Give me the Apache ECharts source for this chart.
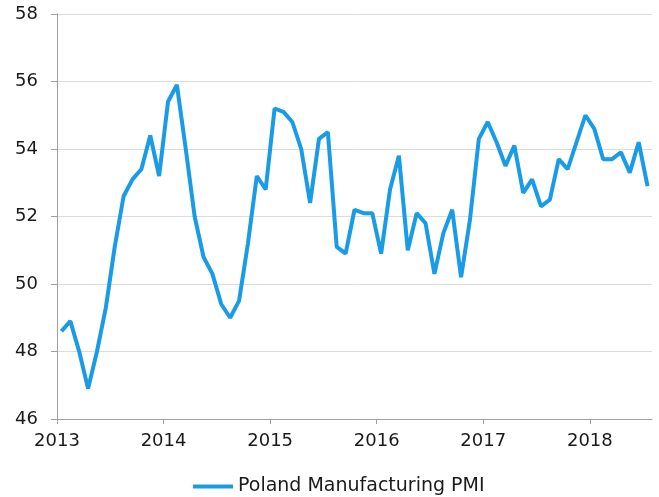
<!DOCTYPE html>
<html>
<head>
<meta charset="utf-8">
<title>Poland Manufacturing PMI</title>
<script src="https://cdn.jsdelivr.net/npm/echarts@6/dist/echarts.min.js"></script>
<style>
  html, body { margin: 0; padding: 0; background: #fff; }
  #main { width: 659px; height: 497px; }
</style>
</head>
<body>
<div id="main"></div>
<script>
// monthly readings, Jan 2013 .. Jul 2018
var months = [
    "2013-01","2013-02","2013-03","2013-04","2013-05","2013-06","2013-07","2013-08","2013-09","2013-10","2013-11","2013-12",
    "2014-01","2014-02","2014-03","2014-04","2014-05","2014-06","2014-07","2014-08","2014-09","2014-10","2014-11","2014-12",
    "2015-01","2015-02","2015-03","2015-04","2015-05","2015-06","2015-07","2015-08","2015-09","2015-10","2015-11","2015-12",
    "2016-01","2016-02","2016-03","2016-04","2016-05","2016-06","2016-07","2016-08","2016-09","2016-10","2016-11","2016-12",
    "2017-01","2017-02","2017-03","2017-04","2017-05","2017-06","2017-07","2017-08","2017-09","2017-10","2017-11","2017-12",
    "2018-01","2018-02","2018-03","2018-04","2018-05","2018-06","2018-07"
];
var pmi = [
    48.6, 48.9, 48.0, 46.9, 48.0, 49.3, 51.1, 52.6, 53.1, 53.4, 54.4, 53.2,
    55.4, 55.9, 54.0, 52.0, 50.8, 50.3, 49.4, 49.0, 49.5, 51.2, 53.2, 52.8,
    55.2, 55.1, 54.8, 54.0, 52.4, 54.3, 54.5, 51.1, 50.9, 52.2, 52.1, 52.1,
    50.9, 52.8, 53.8, 51.0, 52.1, 51.8, 50.3, 51.5, 52.2, 50.2, 51.9, 54.3,
    54.8, 54.2, 53.5, 54.1, 52.7, 53.1, 52.3, 52.5, 53.7, 53.4, 54.2, 55.0,
    54.6, 53.7, 53.7, 53.9, 53.3, 54.2, 52.9
];
var yearTicks = [2013, 2014, 2015, 2016, 2017, 2018];
var yTicks = [46, 48, 50, 52, 54, 56, 58];
var seriesName = "Poland Manufacturing PMI";

(function(){
    var myChart = echarts.init(document.getElementById("main"));
    var font = "DejaVu Sans";

    // each month sits in the middle of its slot on a fractional-year axis
    var points = [];
    for (var i = 0; i < months.length; i++) {
        var p = months[i].split("-");
        points.push([+p[0] + (+p[1] - 0.5) / 12, pmi[i]]);
    }
    var last = months[months.length - 1].split("-");
    var xMax = +last[0] + (+last[1]) / 12;

    var option = {
        animation: false,
        backgroundColor: "#fff",
        grid: {
            left: 57,
            right: 7,
            top: 14,
            bottom: 78
        },
        legend: {
            data: [{ name: seriesName, icon: "rect" }],
            left: 193,
            top: 477,
            padding: 0,
            itemWidth: 40,
            itemHeight: 4,
            textStyle: {
                color: "#1a1a1a",
                fontFamily: font,
                fontSize: 19
            }
        },
        xAxis: {
            type: "value",
            min: yearTicks[0],
            max: xMax,
            interval: 1,
            axisLine: {
                lineStyle: { color: "#a0a0a0", width: 1 }
            },
            axisTick: {
                show: true,
                length: 5,
                customValues: yearTicks,
                lineStyle: { color: "#a0a0a0" }
            },
            axisLabel: {
                customValues: yearTicks,
                margin: 13,
                color: "#1a1a1a",
                fontFamily: font,
                fontSize: 18,
                formatter: function (v) {
                    return Math.abs(v - Math.round(v)) < 1e-6 ? String(Math.round(v)) : "";
                }
            },
            splitLine: { show: false }
        },
        yAxis: {
            type: "value",
            min: yTicks[0],
            max: yTicks[yTicks.length - 1],
            interval: 2,
            axisLine: {
                show: true,
                lineStyle: { color: "#a0a0a0", width: 1 }
            },
            axisTick: {
                show: true,
                length: 6,
                lineStyle: { color: "#a0a0a0" }
            },
            axisLabel: {
                margin: 19,
                color: "#1a1a1a",
                fontFamily: font,
                fontSize: 18
            },
            splitLine: {
                show: true,
                lineStyle: { color: "#dcdcdc", width: 1, type: "solid" }
            }
        },
        series: [{
            name: seriesName,
            type: "line",
            data: points,
            showSymbol: false,
            symbol: "none",
            lineStyle: { color: "#1a9be6", width: 4 },
            itemStyle: { color: "#1a9be6" }
        }]
    };
    myChart.setOption(option);
    window.addEventListener("resize", function(){
        myChart.resize();
    });
})();
</script>
</body>
</html>
